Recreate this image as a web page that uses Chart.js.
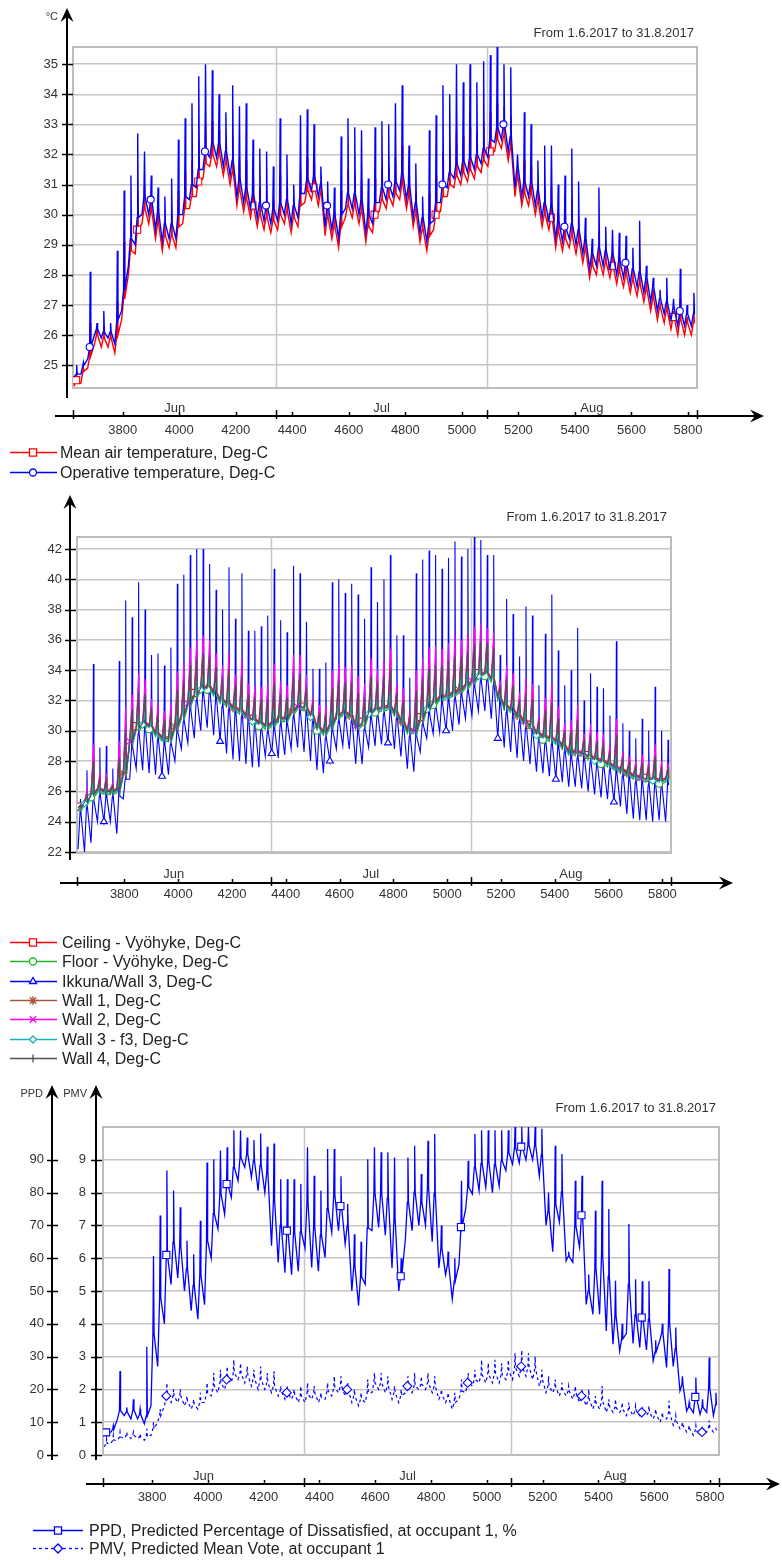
<!DOCTYPE html>
<html lang="en">
<head>
<meta charset="utf-8">
<title>Zone temperatures and thermal comfort, 1.6.2017 - 31.8.2017</title>
<script src="https://cdn.jsdelivr.net/npm/chart.js@4.4.1/dist/chart.umd.min.js"></script>
<style>
  html, body { margin: 0; padding: 0; background: #fff; }
  canvas { position: absolute; left: 0; }
</style>
</head>
<body>
<canvas id="airChart" width="782" height="480" style="top:0"></canvas>
<canvas id="surfaceChart" width="782" height="595" style="top:480px"></canvas>
<canvas id="comfortChart" width="782" height="485" style="top:1075px"></canvas>
<script>
const FONT = '"Liberation Sans", Arial, Helvetica, sans-serif';
Chart.defaults.font.family = FONT;
Chart.defaults.font.size = 13;
Chart.defaults.color = '#333';

// time axis is hour of year: 1.6.2017 00:00 .. 1.9.2017 00:00
const hourStart = 3624;
const hourEnd = 5832;
const monthStarts = [3624, 4344, 5088, 5832];
const monthMids = [3984, 4716, 5460];
const monthNames = ['Jun', 'Jul', 'Aug'];
const hourTicks = [3800, 4000, 4200, 4400, 4600, 4800, 5000, 5200, 5400, 5600, 5800];
const periodText = 'From 1.6.2017 to 31.8.2017';

// ---- chart 1: air / operative temperature, one value per day (night low, day level, peak)
const tempTicks = [25, 26, 27, 28, 29, 30, 31, 32, 33, 34, 35];
const airLow = [
  24.3,24.4,24.9,25.7,25.6,25.6,25.4,26.5,28.0,28.7,
  29.7,29.7,29.2,28.8,28.9,28.9,29.7,30.2,30.6,31.2,
  31.6,31.6,31.3,31.0,30.3,30.1,29.9,29.6,29.5,29.4,
  29.5,29.7,29.4,29.6,30.4,30.5,30.3,29.3,29.2,28.9,
  29.9,29.9,29.7,29.1,29.4,30.1,30.2,30.3,30.5,30.2,
  29.6,29.1,28.8,29.5,30.1,30.6,30.9,31.0,31.1,31.2,
  31.4,31.6,32.1,32.2,31.8,30.6,30.3,30.3,30.0,29.6,
  29.5,28.9,28.8,28.9,28.7,28.4,27.9,28.0,28.0,27.9,
  27.7,27.6,27.4,27.3,27.1,26.8,26.5,26.4,26.2,26.0,
  26.0,26.0];
const airMid = [
  24.5,24.8,25.3,26.0,25.9,25.9,26.0,27.2,28.8,29.5,
  30.2,30.1,29.7,29.3,29.3,29.6,30.2,30.6,31.1,31.7,
  32.0,32.0,31.7,31.4,30.8,30.5,30.3,30.0,29.9,29.8,
  30.0,30.1,29.9,30.3,30.8,30.9,30.7,29.9,29.6,29.6,
  30.3,30.3,30.1,29.6,30.0,30.5,30.6,30.7,31.0,30.6,
  30.0,29.5,29.3,30.0,30.6,31.0,31.3,31.4,31.5,31.6,
  31.8,32.1,32.5,32.6,32.2,31.2,30.7,30.7,30.4,30.0,
  29.9,29.4,29.2,29.3,29.1,28.8,28.3,28.5,28.4,28.3,
  28.1,28.0,27.8,27.7,27.5,27.2,26.9,26.8,26.6,26.5,
  26.4,26.4];
const airTop = [
  24.7,24.9,26.4,26.2,26.3,26.1,27.1,29.1,29.8,30.8,
  31.0,30.6,30.2,29.8,30.1,30.8,31.4,31.8,32.5,33.0,
  33.1,32.8,32.4,32.6,31.9,31.8,31.2,30.9,30.8,30.5,
  31.3,30.9,30.3,31.5,31.9,31.7,31.1,30.4,30.1,30.8,
  31.5,31.3,31.2,30.2,31.2,31.5,31.6,31.9,32.3,31.3,
  30.7,29.9,30.7,31.3,32.1,32.2,32.8,32.6,32.9,32.7,
  33.1,33.4,33.7,33.6,33.3,31.5,31.8,31.6,31.0,30.9,
  30.9,30.0,30.0,30.5,29.9,29.2,28.7,29.5,28.9,28.8,
  28.6,28.5,28.2,28.5,27.8,27.5,27.1,27.2,26.8,27.2,
  26.6,26.8];
const operLow = [
  24.6,24.7,25.2,26.0,25.9,25.9,25.7,26.8,28.3,29.0,
  30.0,30.0,29.5,29.1,29.2,29.2,30.0,30.5,30.9,31.5,
  31.9,31.9,31.6,31.3,30.6,30.4,30.2,29.9,29.8,29.7,
  29.8,30.0,29.7,29.9,30.7,30.8,30.6,29.6,29.5,29.2,
  30.2,30.2,30.0,29.4,29.7,30.4,30.5,30.6,30.8,30.5,
  29.9,29.4,29.1,29.8,30.4,30.9,31.2,31.3,31.4,31.5,
  31.7,31.9,32.4,32.5,32.1,30.9,30.6,30.6,30.3,29.9,
  29.8,29.2,29.1,29.2,29.0,28.7,28.2,28.3,28.3,28.2,
  28.0,27.9,27.7,27.6,27.4,27.1,26.8,26.7,26.5,26.3,
  26.3,26.3];
const operMid = [
  24.7,25.0,25.6,26.2,26.1,26.1,26.5,27.5,29.2,29.9,
  30.6,30.5,30.1,29.7,29.7,30.0,30.6,31.0,31.5,32.1,
  32.4,32.4,32.1,31.8,31.2,30.9,30.7,30.4,30.3,30.2,
  30.4,30.5,30.3,30.7,31.2,31.3,31.0,30.3,30.0,30.0,
  30.7,30.7,30.5,30.0,30.4,30.9,31.0,31.1,31.4,31.0,
  30.4,29.9,29.7,30.4,31.0,31.4,31.7,31.8,31.9,32.0,
  32.2,32.5,32.9,33.0,32.6,31.6,31.1,31.1,30.8,30.4,
  30.3,29.8,29.6,29.7,29.5,29.2,28.7,28.9,28.8,28.7,
  28.5,28.4,28.2,28.1,27.9,27.6,27.2,27.1,26.9,26.8,
  26.7,26.7];
const operTop = [
  25.0,25.1,28.1,26.4,26.8,26.4,28.8,30.8,31.3,32.7,
  32.1,31.3,30.9,30.6,31.2,32.5,33.2,33.7,34.6,35.0,
  34.8,34.0,33.4,34.3,33.6,33.7,32.5,32.2,32.1,31.6,
  33.2,32.0,31.0,33.3,33.5,33.0,31.6,31.1,30.9,32.6,
  33.2,32.9,32.8,31.2,32.9,33.1,33.0,33.7,34.3,32.3,
  31.7,30.6,32.8,33.3,34.3,34.0,35.0,34.4,35.0,34.4,
  35.1,35.3,35.6,35.0,34.9,32.0,33.4,33.0,31.8,32.3,
  32.3,31.0,31.3,32.2,31.1,29.9,29.2,30.9,29.6,29.5,
  29.4,29.3,28.9,29.8,28.3,27.9,27.5,27.9,27.2,28.2,
  27.0,27.4];

// ---- chart 2: surface temperatures
const surfaceTicks = [22, 24, 26, 28, 30, 32, 34, 36, 38, 40, 42];
const windowLow = [
  22.2,22.0,22.6,24.0,24.0,24.0,23.2,25.5,26.8,27.5,
  27.4,27.2,27.1,27.0,27.1,28.0,28.8,29.2,29.5,30.0,
  30.2,29.7,29.3,28.5,28.1,28.0,27.8,27.6,27.6,28.3,
  28.5,28.2,28.4,28.8,28.9,28.6,28.0,27.4,27.2,28.0,
  28.8,29.0,28.8,27.8,27.8,28.9,29.0,29.1,29.2,28.8,
  28.3,27.5,27.3,28.6,29.5,29.8,29.9,30.0,30.0,30.4,
  30.8,31.0,31.3,31.3,30.8,29.5,28.9,28.6,28.2,28.0,
  27.8,27.3,27.2,27.0,26.8,26.6,26.3,26.3,26.2,26.0,
  25.8,25.6,25.5,25.3,25.0,24.5,24.2,24.1,24.1,24.0,
  24.1,24.0];
const windowMid = [
  24.5,24.9,25.4,25.7,25.6,25.6,25.7,26.8,28.9,29.8,
  30.1,29.9,29.4,29.1,29.1,29.9,30.6,31.4,32.0,32.4,
  32.5,32.1,31.6,31.4,31.1,30.9,30.6,30.3,30.1,29.9,
  30.1,30.4,30.4,30.9,31.2,31.1,30.6,29.8,29.5,30.0,
  30.6,30.8,30.6,29.9,30.1,30.8,31.0,31.1,31.2,30.8,
  30.2,29.6,29.6,30.4,31.1,31.5,31.8,31.9,32.1,32.3,
  32.6,32.9,33.3,33.4,33.0,31.8,31.2,31.0,30.6,30.2,
  29.9,29.4,29.2,29.1,28.9,28.6,28.2,28.2,28.1,27.9,
  27.7,27.6,27.4,27.2,27.0,26.8,26.6,26.5,26.4,26.4,
  26.3,26.4];
const windowTop = [
  25.5,27.4,34.4,28.9,29.0,27.5,34.6,38.6,37.5,39.8,
  38.0,35.0,35.1,34.3,35.5,39.7,40.3,41.6,42.0,42.0,
  41.0,39.3,38.0,40.8,37.4,40.4,36.6,36.6,36.9,37.6,
  40.7,37.3,36.5,40.9,40.4,37.2,34.1,34.1,34.5,39.8,
  40.0,39.1,39.7,39.0,37.4,40.8,38.5,40.0,41.6,36.3,
  36.3,33.5,40.4,41.3,41.9,41.6,40.7,41.4,42.5,41.5,
  42.0,42.8,42.6,41.6,41.6,35.0,38.7,37.7,34.9,38.2,
  37.6,33.0,36.4,39.0,35.3,33.0,34.0,36.8,32.0,33.8,
  32.9,32.8,31.0,35.9,30.5,30.0,29.5,30.8,30.0,32.9,
  30.0,29.4];
const ceilingLevel = [
  25.0,25.4,25.9,26.2,26.1,26.1,26.2,27.3,29.4,30.3,
  30.6,30.4,29.9,29.6,29.6,30.4,31.1,31.9,32.5,32.9,
  33.0,32.6,32.1,31.9,31.6,31.4,31.1,30.8,30.6,30.4,
  30.6,30.9,30.9,31.4,31.7,31.6,31.1,30.3,30.0,30.5,
  31.1,31.3,31.1,30.4,30.6,31.3,31.5,31.6,31.7,31.3,
  30.7,30.1,30.1,30.9,31.6,32.0,32.3,32.4,32.6,32.8,
  33.1,33.4,33.8,33.9,33.5,32.3,31.7,31.5,31.1,30.7,
  30.4,29.9,29.7,29.6,29.4,29.1,28.7,28.7,28.6,28.4,
  28.2,28.1,27.9,27.7,27.5,27.3,27.1,27.0,26.9,26.9,
  26.8,26.9];
const ceilingPeak = [
  25.0,25.6,26.8,26.4,26.4,26.2,27.1,28.6,30.3,31.4,
  31.4,30.9,30.4,30.1,30.2,31.4,32.1,33.0,33.6,33.9,
  33.9,33.3,32.7,32.9,32.2,32.4,31.7,31.4,31.3,31.2,
  31.7,31.6,31.5,32.5,32.7,32.2,31.4,30.7,30.5,31.5,
  32.1,32.1,32.0,31.3,31.3,32.4,32.3,32.5,32.8,31.8,
  31.3,30.4,31.2,32.1,32.7,33.1,33.2,33.4,33.7,33.8,
  34.1,34.4,34.8,34.7,34.4,32.5,32.5,32.2,31.5,31.5,
  31.2,30.2,30.4,30.6,30.0,29.5,29.2,29.6,28.9,29.0,
  28.7,28.6,28.2,28.6,27.8,27.5,27.3,27.4,27.2,27.5,
  27.1,27.1];
const floorLevel = [
  24.7,25.1,25.6,25.9,25.8,25.8,25.9,27.0,29.1,30.0,
  30.3,30.1,29.6,29.3,29.3,30.1,30.8,31.6,32.2,32.6,
  32.7,32.3,31.8,31.6,31.3,31.1,30.8,30.5,30.3,30.1,
  30.3,30.6,30.6,31.1,31.4,31.3,30.8,30.0,29.7,30.2,
  30.8,31.0,30.8,30.1,30.3,31.0,31.2,31.3,31.4,31.0,
  30.4,29.8,29.8,30.6,31.3,31.7,32.0,32.1,32.3,32.5,
  32.8,33.1,33.5,33.6,33.2,32.0,31.4,31.2,30.8,30.4,
  30.1,29.6,29.4,29.3,29.1,28.8,28.4,28.4,28.3,28.1,
  27.9,27.8,27.6,27.4,27.2,27.0,26.8,26.7,26.6,26.6,
  26.5,26.6];
const floorPeak = [
  25.0,25.5,26.5,26.3,26.2,26.1,26.8,28.1,29.9,31.0,
  31.1,30.7,30.2,29.9,30.0,31.1,31.7,32.6,33.2,33.5,
  33.5,33.0,32.5,32.5,32.0,32.0,31.4,31.2,31.0,30.9,
  31.3,31.3,31.3,32.1,32.3,32.0,31.2,30.5,30.3,31.2,
  31.7,31.8,31.7,31.0,31.1,32.0,32.0,32.2,32.4,31.6,
  31.1,30.3,30.8,31.6,32.3,32.7,32.9,33.0,33.3,33.4,
  33.7,34.1,34.4,34.4,34.1,32.4,32.2,31.9,31.3,31.2,
  30.9,30.1,30.1,30.3,29.8,29.3,29.0,29.3,28.8,28.7,
  28.5,28.4,28.1,28.3,27.6,27.4,27.2,27.2,27.1,27.3,
  27.0,27.0];
const wallLevel = [
  24.9,25.3,25.8,26.1,26.0,26.0,26.1,27.2,29.3,30.2,
  30.5,30.3,29.8,29.5,29.5,30.3,31.0,31.8,32.4,32.8,
  32.9,32.5,32.0,31.8,31.5,31.3,31.0,30.7,30.5,30.3,
  30.5,30.8,30.8,31.3,31.6,31.5,31.0,30.2,29.9,30.4,
  31.0,31.2,31.0,30.3,30.5,31.2,31.4,31.5,31.6,31.2,
  30.6,30.0,30.0,30.8,31.5,31.9,32.2,32.3,32.5,32.7,
  33.0,33.3,33.7,33.8,33.4,32.2,31.6,31.4,31.0,30.6,
  30.3,29.8,29.6,29.5,29.3,29.0,28.6,28.6,28.5,28.3,
  28.1,28.0,27.8,27.6,27.4,27.2,27.0,26.9,26.8,26.8,
  26.7,26.8];
const wall1Peak = [
  25.1,25.9,28.4,26.9,26.9,26.5,28.7,30.6,31.8,33.1,
  32.8,31.7,31.4,30.9,31.3,33.1,33.8,34.7,35.3,35.6,
  35.3,34.5,33.8,34.5,33.3,34.0,32.7,32.5,32.4,32.5,
  33.6,32.8,32.5,34.2,34.2,33.2,31.9,31.4,31.3,33.2,
  33.7,33.6,33.6,32.9,32.6,34.1,33.5,34.1,34.6,32.7,
  32.3,31.1,33.1,34.0,34.6,34.8,34.8,35.0,35.5,35.3,
  35.7,36.2,36.4,36.1,35.9,33.0,33.7,33.3,32.2,32.9,
  32.5,30.8,31.6,32.4,31.1,30.2,30.2,31.1,29.6,30.0,
  29.5,29.4,28.8,30.1,28.3,28.0,27.8,28.1,27.8,28.6,
  27.7,27.6];
const wall2Peak = [
  25.1,26.1,29.1,27.2,27.1,26.6,29.3,31.5,32.4,33.8,
  33.4,32.1,31.8,31.3,31.8,33.9,34.5,35.5,36.0,36.3,
  36.0,35.1,34.3,35.2,33.7,34.8,33.1,32.9,32.9,33.1,
  34.4,33.3,33.0,35.0,35.0,33.7,32.2,31.7,31.6,34.0,
  34.4,34.2,34.3,33.6,33.1,34.8,34.1,34.7,35.4,33.1,
  32.8,31.3,34.0,34.8,35.5,35.6,35.4,35.8,36.3,36.0,
  36.4,36.9,37.1,36.8,36.5,33.3,34.3,33.8,32.5,33.5,
  33.1,31.0,32.2,33.1,31.6,30.5,30.7,31.7,29.8,30.4,
  29.9,29.8,29.0,30.8,28.6,28.3,28.0,28.4,28.0,29.1,
  28.0,27.8];
const wall3Level = [
  24.8,25.2,25.7,26.0,25.9,25.9,26.0,27.1,29.2,30.1,
  30.4,30.2,29.7,29.4,29.4,30.2,30.9,31.7,32.3,32.7,
  32.8,32.4,31.9,31.7,31.4,31.2,30.9,30.6,30.4,30.2,
  30.4,30.7,30.7,31.2,31.5,31.4,30.9,30.1,29.8,30.3,
  30.9,31.1,30.9,30.2,30.4,31.1,31.3,31.4,31.5,31.1,
  30.5,29.9,29.9,30.7,31.4,31.8,32.1,32.2,32.4,32.6,
  32.9,33.2,33.6,33.7,33.3,32.1,31.5,31.3,30.9,30.5,
  30.2,29.7,29.5,29.4,29.2,28.9,28.5,28.5,28.4,28.2,
  28.0,27.9,27.7,27.5,27.3,27.1,26.9,26.8,26.7,26.7,
  26.6,26.7];
const wall3Peak = [
  25.0,25.5,26.7,26.4,26.3,26.2,27.0,28.3,30.1,31.2,
  31.3,30.8,30.3,30.0,30.1,31.2,31.9,32.8,33.4,33.7,
  33.7,33.2,32.6,32.7,32.1,32.2,31.6,31.3,31.1,31.0,
  31.5,31.5,31.4,32.3,32.5,32.1,31.3,30.6,30.4,31.3,
  31.9,32.0,31.9,31.2,31.2,32.2,32.1,32.4,32.6,31.7,
  31.2,30.4,31.0,31.9,32.5,32.9,33.1,33.2,33.5,33.6,
  33.9,34.3,34.6,34.6,34.2,32.5,32.3,32.0,31.4,31.4,
  31.0,30.1,30.3,30.5,29.9,29.4,29.1,29.4,28.9,28.9,
  28.6,28.5,28.1,28.4,27.7,27.5,27.3,27.3,27.1,27.4,
  27.0,27.1];
const wall4Peak = [
  25.1,25.8,28.0,26.8,26.8,26.4,28.2,30.1,31.4,32.6,
  32.4,31.5,31.1,30.7,31.0,32.7,33.3,34.3,34.8,35.1,
  34.9,34.2,33.5,34.1,33.0,33.6,32.4,32.2,32.1,32.1,
  33.1,32.4,32.2,33.7,33.8,32.9,31.8,31.2,31.1,32.8,
  33.3,33.2,33.2,32.5,32.2,33.6,33.2,33.6,34.1,32.5,
  32.0,30.9,32.6,33.4,34.1,34.3,34.3,34.6,35.0,34.9,
  35.3,35.7,35.9,35.8,35.5,32.9,33.4,33.0,32.0,32.5,
  32.1,30.6,31.3,31.9,30.8,30.0,30.0,30.7,29.4,29.7,
  29.3,29.2,28.6,29.7,28.2,27.9,27.6,27.9,27.6,28.3,
  27.5,27.5];

// ---- chart 3: comfort indices
const ppdTicks = [0, 10, 20, 30, 40, 50, 60, 70, 80, 90];
const pmvTicks = [0, 1, 2, 3, 4, 5, 6, 7, 8, 9];
const ppdLow = [
  6.0,7.0,11.0,12.0,11.0,11.0,9.5,15.0,27.0,40.0,
  52.0,54.0,50.0,44.0,41.4,45.8,60.0,69.0,73.4,78.5,
  83.6,87.7,84.6,80.6,80.0,63.8,58.7,55.6,55.0,56.0,
  63.0,57.2,56.0,60.2,67.9,68.4,64.3,50.0,45.5,52.0,
  68.4,69.4,67.0,57.0,50.0,66.0,68.4,70.0,70.0,65.0,
  57.0,55.0,47.5,58.0,75.0,79.6,80.6,81.6,80.0,82.0,
  86.7,88.7,89.0,90.0,90.0,85.0,70.0,62.0,71.0,59.2,
  58.7,63.3,45.9,42.9,42.9,37.8,33.8,31.7,37.0,34.0,
  32.8,32.0,28.7,35.0,26.7,27.0,19.5,13.4,12.9,12.4,
  13.0,12.0];
const ppdMid = [
  6.9,7.9,13.5,13.1,13.7,12.4,12.0,37.0,48.0,61.0,
  65.0,63.7,56.9,51.7,54.9,65.3,73.6,79.7,82.6,87.7,
  90.5,91.8,89.7,88.4,86.3,77.8,70.1,68.4,68.1,68.0,
  76.9,69.7,67.1,75.1,79.3,75.9,69.8,57.8,54.3,69.2,
  79.8,79.7,78.4,72.2,54.5,77.1,80.1,77.1,81.6,79.8,
  62.9,58.2,53.1,69.5,81.6,87.8,88.9,89.4,88.6,89.7,
  92.2,93.8,94.0,94.5,94.5,91.5,74.5,76.5,80.2,60.5,
  69.9,73.1,50.0,57.1,61.2,54.5,42.5,35.4,52.0,42.8,
  41.9,41.5,31.5,37.3,40.3,32.4,21.5,14.6,17.7,14.5,
  20.5,15.2];
const ppdTop = [
  8.0,9.0,25.6,14.5,17.0,14.0,33.0,60.7,73.0,86.7,
  80.6,75.5,65.3,61.2,71.4,89.2,90.2,92.8,93.8,99.0,
  98.9,96.8,96.0,98.0,94.0,95.0,84.1,84.1,84.1,82.6,
  93.8,85.1,80.6,93.3,93.3,85.0,76.5,67.3,65.0,90.2,
  93.8,92.3,92.3,90.7,60.0,90.7,94.3,85.7,95.8,97.9,
  70.0,62.0,60.0,83.6,89.7,97.9,99.0,99.0,99.0,99.0,
  99.0,100,100,100,100,99.5,80.0,94.3,91.8,62.0,
  83.6,85.1,55.0,74.5,83.6,75.0,53.1,40.0,70.4,53.6,
  53.0,53.0,35.0,40.0,56.7,38.9,24.0,16.0,23.6,17.0,
  29.7,19.0];
const pmvLow = [
  0.25,0.35,0.45,0.5,0.5,0.5,0.45,0.6,1.0,1.5,
  1.6,1.6,1.5,1.4,1.4,1.6,1.8,1.9,2.0,2.2,
  2.3,2.2,2.1,2.0,2.0,1.9,1.8,1.7,1.7,1.6,
  1.6,1.7,1.6,1.7,1.8,1.9,1.8,1.6,1.5,1.6,
  1.9,2.0,1.9,1.7,1.6,1.9,1.9,2.0,2.0,1.9,
  1.7,1.6,1.4,1.7,1.9,2.1,2.2,2.2,2.2,2.2,
  2.3,2.3,2.4,2.4,2.3,2.1,1.9,1.9,1.8,1.8,
  1.7,1.6,1.5,1.4,1.4,1.3,1.3,1.3,1.2,1.2,
  1.2,1.2,1.1,1.0,1.1,0.9,0.8,0.7,0.6,0.6,
  0.7,0.7];
const pmvMid = [
  0.35,0.45,0.55,0.6,0.6,0.55,0.55,0.8,1.2,1.8,
  1.8,1.8,1.65,1.55,1.6,1.9,2.1,2.2,2.3,2.5,
  2.5,2.45,2.35,2.3,2.2,2.1,1.95,1.9,1.85,1.8,
  1.85,1.9,1.75,1.95,2.05,2.1,2.0,1.8,1.7,1.9,
  2.2,2.2,2.1,1.9,1.8,2.1,2.1,2.15,2.2,2.1,
  1.85,1.75,1.6,1.95,2.2,2.3,2.45,2.45,2.5,2.45,
  2.55,2.65,2.7,2.7,2.6,2.3,2.1,2.05,2.0,1.95,
  1.9,1.8,1.7,1.6,1.65,1.5,1.45,1.4,1.4,1.35,
  1.3,1.3,1.25,1.15,1.3,1.05,0.9,0.8,0.75,0.7,
  0.85,0.75];
const pmvTop = [
  0.5,0.6,0.7,0.7,0.7,0.65,0.8,1.0,1.4,2.2,
  2.0,2.0,1.8,1.7,1.9,2.2,2.5,2.6,2.7,2.9,
  2.8,2.7,2.6,2.7,2.5,2.55,2.1,2.1,2.0,2.1,
  2.2,2.1,1.9,2.2,2.4,2.4,2.2,2.0,1.9,2.3,
  2.5,2.5,2.4,2.1,2.0,2.4,2.5,2.4,2.5,2.4,
  2.0,1.9,1.9,2.3,2.5,2.6,2.9,2.8,2.9,2.8,
  2.9,3.1,3.2,3.1,3.0,2.6,2.4,2.3,2.2,2.1,
  2.1,2.0,2.0,1.8,2.1,1.7,1.7,1.6,1.6,1.5,
  1.4,1.5,1.4,1.3,1.65,1.2,1.0,0.9,0.9,0.8,
  1.05,0.8];

// hours of the day at which each daily reading is placed
const spikeHours = [4, 11, 13, 15];
const peakHours = [4, 13, 15];

function dayPoints(values, hours) {
  const n = Math.min(...values.map(v => v.length));
  const pts = [];
  for (let d = 0; d < n; d++) {
    hours.forEach((h, k) => pts.push({ x: hourStart + d * 24 + h, y: values[k][d] }));
  }
  return pts;
}

// sparse markers: one every `period` hours, placed on the chosen reading of the day
function markEvery(period, phase, r, perDay, kind) {
  return c => {
    const i = c.dataIndex;
    if (i % perDay !== kind) return 0;
    const data = c.dataset.data;
    const k = Math.floor((data[i].x - hourStart - phase) / period);
    const j = i - perDay;
    const kPrev = j >= 0 ? Math.floor((data[j].x - hourStart - phase) / period) : -1;
    return k >= 0 && k !== kPrev ? r : 0;
  };
}

function series(label, color, data, style, radius, size, extra) {
  return Object.assign({
    label, data,
    borderColor: color, backgroundColor: color, borderWidth: 1.2,
    pointStyle: style, pointRadius: radius, markerSize: size,
    pointBorderColor: color, pointBackgroundColor: '#fff', pointBorderWidth: 1.1,
    pointHoverRadius: 0, pointHitRadius: 0,
    parsing: false, normalized: true, tension: 0
  }, extra || {});
}

function hourScale(padding) {
  return {
    type: 'linear', min: hourStart, max: hourEnd,
    afterBuildTicks: s => { s.ticks = hourTicks.map(v => ({ value: v })); },
    afterFit: s => { s.height = 60; },
    grid: { display: false, drawTicks: false },
    border: { display: false },
    ticks: { padding, autoSkip: false, maxRotation: 0, callback: v => String(v) }
  };
}

function valueScale(min, max, values, width, padding, extra) {
  return Object.assign({
    type: 'linear', position: 'left', min, max,
    afterBuildTicks: s => { s.ticks = values.map(v => ({ value: v })); },
    afterFit: s => { s.width = width; },
    grid: { color: '#c6c6c6', lineWidth: 1.5, drawTicks: false },
    border: { display: false },
    ticks: { padding, autoSkip: false, callback: v => String(v) }
  }, extra || {});
}

function baseOptions(pad, scales) {
  return {
    responsive: false, animation: false, events: [], devicePixelRatio: 1,
    layout: { padding: { left: 0, top: pad.top, right: pad.right, bottom: pad.bottom } },
    plugins: { legend: { display: false }, tooltip: { enabled: false } },
    scales
  };
}

function strokeLine(ctx, x1, y1, x2, y2) {
  ctx.beginPath(); ctx.moveTo(x1, y1); ctx.lineTo(x2, y2); ctx.stroke();
}
function arrowUp(ctx, x, y) {
  ctx.beginPath();
  ctx.moveTo(x, y); ctx.lineTo(x + 6.5, y + 14); ctx.lineTo(x, y + 9); ctx.lineTo(x - 6.5, y + 14);
  ctx.closePath(); ctx.fill();
}
function arrowRight(ctx, x, y) {
  ctx.beginPath();
  ctx.moveTo(x, y); ctx.lineTo(x - 14, y - 6.5); ctx.lineTo(x - 9, y); ctx.lineTo(x - 14, y + 6.5);
  ctx.closePath(); ctx.fill();
}

// frame, arrowed axes, month names, period text and legend
function makeDecor(cfg) {
  return {
    id: 'decor',
    beforeDatasetsDraw(chart) {
      const { ctx, chartArea: a, scales: { x } } = chart;
      ctx.save();
      ctx.strokeStyle = '#c6c6c6';
      ctx.lineWidth = 1.5;
      monthStarts.slice(1, -1).forEach(h => {
        const px = Math.round(x.getPixelForValue(h)) + 0.5;
        strokeLine(ctx, px, a.top, px, a.bottom);
      });
      ctx.strokeStyle = '#bdbdbd';
      ctx.lineWidth = 2;
      ctx.strokeRect(a.left, a.top, a.right - a.left, a.bottom - a.top);
      ctx.restore();
    },
    afterDraw(chart) {
      const { ctx, scales } = chart;
      const x = scales.x;
      ctx.save();
      ctx.strokeStyle = '#000';
      ctx.fillStyle = '#000';
      cfg.axes.forEach(ax => {
        const s = scales[ax.id];
        ctx.lineWidth = 2;
        strokeLine(ctx, ax.x, cfg.axisBottom, ax.x, cfg.axisTop + 9);
        arrowUp(ctx, ax.x, cfg.axisTop);
        ctx.lineWidth = 1.5;
        s.ticks.forEach(t => {
          const py = Math.round(s.getPixelForValue(t.value)) + 0.5;
          strokeLine(ctx, ax.x - 5, py, ax.x + 6, py);
        });
        if (ax.unit) {
          ctx.font = '11px ' + FONT;
          ctx.textAlign = 'right';
          ctx.textBaseline = 'middle';
          ctx.fillStyle = '#333';
          ctx.fillText(ax.unit, ax.x - 9, cfg.axisTop + 9);
          ctx.fillStyle = '#000';
        }
      });
      const ay = cfg.timeY;
      ctx.lineWidth = 2;
      strokeLine(ctx, cfg.timeLeft, ay, cfg.timeTip - 9, ay);
      arrowRight(ctx, cfg.timeTip, ay);
      ctx.lineWidth = 1.5;
      hourTicks.forEach(h => {
        const px = Math.round(x.getPixelForValue(h)) + 0.5;
        strokeLine(ctx, px, ay - 4, px, ay);
      });
      monthStarts.forEach(h => {
        const px = Math.round(x.getPixelForValue(h)) + 0.5;
        strokeLine(ctx, px, ay - 6, px, ay + 3);
      });

      ctx.fillStyle = '#333';
      ctx.font = '13px ' + FONT;
      ctx.textAlign = 'center';
      ctx.textBaseline = 'middle';
      monthNames.forEach((m, i) => ctx.fillText(m, x.getPixelForValue(monthMids[i]), cfg.monthY));
      ctx.textAlign = 'right';
      ctx.fillText(periodText, cfg.periodX, cfg.periodY);

      const lg = cfg.legend;
      chart.data.datasets.forEach((ds, i) => {
        const y = Math.round(lg.y + i * lg.dy) + 0.5;
        ctx.strokeStyle = ds.borderColor;
        ctx.lineWidth = 1.3;
        ctx.setLineDash(ds.borderDash || []);
        strokeLine(ctx, lg.x0, y, lg.x1, y);
        ctx.setLineDash([]);
        ctx.fillStyle = '#fff';
        Chart.helpers.drawPoint(ctx, {
          pointStyle: ds.pointStyle, rotation: ds.pointRotation || 0,
          radius: ds.markerSize, borderWidth: 1.1
        }, lg.mx, y);
        ctx.fillStyle = '#222';
        ctx.font = '16px ' + FONT;
        ctx.textAlign = 'left';
        ctx.textBaseline = 'middle';
        ctx.fillText(ds.label, lg.tx, y + 1);
      });
      ctx.restore();
    }
  };
}

// ---- chart 1
new Chart(document.getElementById('airChart'), {
  type: 'line',
  data: {
    datasets: [
      series('Mean air temperature, Deg-C', '#ff0000',
        dayPoints([airLow, airMid, airTop, airMid], spikeHours), 'rect',
        markEvery(210, 0, 5, 4, 1), 5, { borderWidth: 1.4, order: 1 }),
      series('Operative temperature, Deg-C', '#0000ff',
        dayPoints([operLow, operMid, operTop, operMid], spikeHours), 'circle',
        markEvery(210, 45, 3.5, 4, 1), 3.5, { borderWidth: 1.4, order: 0 })
    ]
  },
  options: baseOptions({ top: 47, right: 85, bottom: 32 }, {
    x: hourScale(35),
    y: valueScale(24.24, 35.57, tempTicks, 73, 15)
  }),
  plugins: [makeDecor({
    axes: [{ id: 'y', x: 67, unit: '°C' }],
    axisTop: 8, axisBottom: 398,
    timeY: 416, timeLeft: 55, timeTip: 764, monthY: 408,
    periodX: 694, periodY: 33,
    legend: { x0: 10, x1: 57, mx: 33, tx: 60, y: 452, dy: 20 }
  })]
});

// ---- chart 2
new Chart(document.getElementById('surfaceChart'), {
  type: 'line',
  data: {
    datasets: [
      series('Ceiling - Vyöhyke, Deg-C', '#ff0000',
        dayPoints([ceilingLevel, ceilingPeak, ceilingLevel], peakHours), 'rect',
        markEvery(210, 0, 5, 3, 0), 5, { order: 5, borderWidth: 1.1 }),
      series('Floor - Vyöhyke, Deg-C', '#22b422',
        dayPoints([floorLevel, floorPeak, floorLevel], peakHours), 'circle',
        markEvery(210, 46, 3.5, 3, 0), 3.5, { order: 4, borderWidth: 1.1 }),
      series('Ikkuna/Wall 3, Deg-C', '#0000ff',
        dayPoints([windowLow, windowMid, windowTop, windowMid], spikeHours), 'triangle',
        markEvery(210, 90, 4, 4, 0), 4, { order: 9, borderWidth: 1.1 }),
      series('Wall 1, Deg-C', '#a8583a',
        dayPoints([wallLevel, wall1Peak, wallLevel], peakHours), 'star',
        markEvery(210, 154, 4.5, 3, 0), 4.5, { order: 3, borderWidth: 1.1 }),
      series('Wall 2, Deg-C', '#ff00ff',
        dayPoints([wallLevel, wall2Peak, wallLevel], peakHours), 'crossRot',
        markEvery(210, 190, 4.5, 3, 0), 4.5, { order: 2, borderWidth: 1.1 }),
      series('Wall 3 - f3, Deg-C', '#1aaebb',
        dayPoints([wall3Level, wall3Peak, wall3Level], peakHours), 'rectRot',
        markEvery(210, 22, 3.5, 3, 0), 3.5, { order: 1, borderWidth: 1.1 }),
      series('Wall 4, Deg-C', '#505050',
        dayPoints([wallLevel, wall4Peak, wallLevel], peakHours), 'line',
        markEvery(210, 115, 4, 3, 0), 4, { order: 0, borderWidth: 1.1, pointRotation: 90 })
    ]
  },
  options: baseOptions({ top: 57, right: 111, bottom: 162 }, {
    x: hourScale(34),
    y: valueScale(21.93, 42.79, surfaceTicks, 77, 15)
  }),
  plugins: [makeDecor({
    axes: [{ id: 'y', x: 70 }],
    axisTop: 15, axisBottom: 380,
    timeY: 403, timeLeft: 60, timeTip: 733, monthY: 394,
    periodX: 667, periodY: 37,
    legend: { x0: 10, x1: 57, mx: 33, tx: 62, y: 462, dy: 19.3 }
  })]
});

// ---- chart 3
new Chart(document.getElementById('comfortChart'), {
  type: 'line',
  data: {
    datasets: [
      series('PPD, Predicted Percentage of Dissatisfied, at occupant 1, %', '#0000ff',
        dayPoints([ppdLow, ppdMid, ppdTop, ppdMid], spikeHours), 'rect',
        markEvery(212, 0, 5, 4, 1), 5, { yAxisID: 'y', borderWidth: 1.3 }),
      series('PMV, Predicted Mean Vote, at occupant 1', '#0000ff',
        dayPoints([pmvLow, pmvMid, pmvTop, pmvMid], spikeHours), 'rectRot',
        markEvery(212, 227, 4.5, 4, 1), 4.5, { yAxisID: 'y2', borderWidth: 1.2, borderDash: [3, 3] })
    ]
  },
  options: baseOptions({ top: 52, right: 63, bottom: 45 }, {
    x: hourScale(35),
    y: valueScale(0, 100, ppdTicks, 58, 14, { weight: 2 }),
    y2: valueScale(0, 10, pmvTicks, 45, 17, { weight: 1, grid: { display: false, drawTicks: false } })
  }),
  plugins: [makeDecor({
    axes: [{ id: 'y', x: 52, unit: 'PPD' }, { id: 'y2', x: 96, unit: 'PMV' }],
    axisTop: 10, axisBottom: 385,
    timeY: 409, timeLeft: 86, timeTip: 780, monthY: 401,
    periodX: 716, periodY: 33,
    legend: { x0: 33, x1: 83, mx: 58, tx: 89, y: 455, dy: 18 }
  })]
});
</script>
</body>
</html>
